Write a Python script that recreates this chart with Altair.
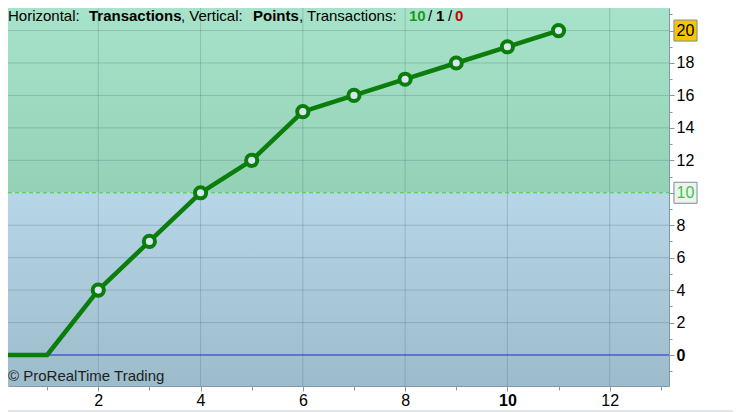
import altair as alt
import pandas as pd

# ---- data ----
trades = [0, 1, 2, 3, 4, 5, 6, 7, 8, 9, 10, 11]
points = [0, 0, 4, 7, 10, 12, 15, 16, 17, 18, 19, 20]
marker_trades = [2, 3, 4, 5, 6, 7, 8, 9, 10, 11]
marker_points = [4, 7, 10, 12, 15, 16, 17, 18, 19, 20]
x_grid = [2, 4, 6, 8, 10, 12]
y_grid = [2, 4, 6, 8, 12, 14, 16, 18, 20]
threshold = 10
zero_level = 0
last_value = 20
x_axis_values = list(range(1, 14))
y_axis_values = list(range(-1, 22))
title_pieces = ["Horizontal: ", "Transactions", ", Vertical: ", "Points",
                ", Transactions: ", "10", "/", "1", "/", "0"]
copyright_text = "© ProRealTime Trading"

# ---- layout / style ----
W, H = 661, 378
X_DOM = [0.235, 13.16]
Y_DOM = [-1.91, 21.39]
FONT = "Liberation Sans"
LINE_GREEN = "#0b7d0b"
AXIS_COL = "#8299a6"

xs = alt.Scale(domain=X_DOM, nice=False, zero=False)
ys = alt.Scale(domain=Y_DOM, nice=False, zero=False)

x_axis = alt.Axis(
    orient="bottom", values=x_axis_values, grid=False, zindex=1,
    labelExpr="datum.value % 2 === 0 ? datum.label : ''",
    tickSize={"condition": {"test": "datum.value % 2 === 0", "value": 5}, "value": 4},
    labelFontWeight={"condition": {"test": "datum.value === 10", "value": "bold"}, "value": "normal"},
    labelFont=FONT, labelFontSize=16, labelColor="#000000", labelPadding=1,
    domainColor=AXIS_COL, tickColor=AXIS_COL, labelFlush=False, labelOverlap=False,
    title=None,
)
y_axis = alt.Axis(
    orient="right", values=y_axis_values, grid=False, zindex=1,
    labelExpr="datum.value % 2 === 0 ? datum.label : ''",
    tickSize={"condition": {"test": "datum.value % 2 === 0", "value": 5}, "value": 3},
    labelFontWeight={"condition": {"test": "datum.value === 0", "value": "bold"}, "value": "normal"},
    labelColor={"condition": {"test": "datum.value === 10", "value": "#3fc43f"}, "value": "#000000"},
    labelFont=FONT, labelFontSize=16, labelPadding=2, labelBaseline="middle",
    domainColor=AXIS_COL, tickColor=AXIS_COL, labelFlush=False, labelOverlap=False,
    title=None,
)

def X(field):
    return alt.X(field, type="quantitative", scale=xs, axis=x_axis, title=None)

def Y(field):
    return alt.Y(field, type="quantitative", scale=ys, axis=y_axis, title=None)

one = pd.DataFrame({"k": [0]})

# backgrounds
bands = pd.DataFrame({"lo": [threshold], "hi": [Y_DOM[1]]})
bands_b = pd.DataFrame({"lo": [Y_DOM[0]], "hi": [threshold]})
green_grad = alt.LinearGradient(gradient="linear", x1=0, y1=0, x2=0, y2=1,
    stops=[alt.GradientStop(color="#a7e3ca", offset=0), alt.GradientStop(color="#94d1b6", offset=1)])
blue_grad = alt.LinearGradient(gradient="linear", x1=0, y1=0, x2=0, y2=1,
    stops=[alt.GradientStop(color="#b7d6e7", offset=0), alt.GradientStop(color="#9cbccb", offset=1)])

bg_green = alt.Chart(bands).mark_rect(fill=green_grad, clip=True).encode(
    x=alt.value(0), x2=alt.value(W), y=Y("hi"), y2="lo")
bg_blue = alt.Chart(bands_b).mark_rect(fill=blue_grad, clip=True).encode(
    x=alt.value(0), x2=alt.value(W), y=Y("hi"), y2="lo")

vgrid = alt.Chart(pd.DataFrame({"g": x_grid})).mark_rule(
    color="#4a6a72", opacity=0.28, strokeWidth=1).encode(
    x=X("g"), y=alt.value(0), y2=alt.value(H))
hgrid = alt.Chart(pd.DataFrame({"g": y_grid})).mark_rule(
    color="#4a6a72", opacity=0.28, strokeWidth=1).encode(
    y=Y("g"), x=alt.value(0), x2=alt.value(W))

thr = alt.Chart(pd.DataFrame({"v": [threshold]})).mark_rule(
    color="#3fd03f", strokeDash=[4, 3], strokeWidth=1).encode(
    y=Y("v"), x=alt.value(0), x2=alt.value(W))
zero = alt.Chart(pd.DataFrame({"v": [zero_level]})).mark_rule(
    color="#2424d0", strokeWidth=1).encode(
    y=Y("v"), x=alt.value(0), x2=alt.value(W))

line = alt.Chart(pd.DataFrame({"t": trades, "p": points})).mark_line(
    color=LINE_GREEN, strokeWidth=4.5, clip=True, strokeJoin="round").encode(
    x=X("t"), y=Y("p"))
dots = alt.Chart(pd.DataFrame({"t": marker_trades, "p": marker_points})).mark_point(
    shape="circle", filled=True, fill="#d5e8f1", stroke=LINE_GREEN,
    strokeWidth=4, size=125, opacity=1).encode(x=X("t"), y=Y("p"))

# label boxes on right axis
BOX = "M-1.1,-1L1.1,-1L1.1,1L-1.1,1Z"
box20 = alt.Chart(pd.DataFrame({"v": [last_value]})).mark_point(
    shape=BOX, filled=True, fill="#f7c500", stroke="#7d8c96", strokeWidth=1,
    size=441, opacity=1).encode(x=alt.value(W + 16.5), y=Y("v"))
box10 = alt.Chart(pd.DataFrame({"v": [threshold]})).mark_point(
    shape=BOX, filled=True, fill="#eef3f1", stroke="#7d8c96", strokeWidth=1,
    size=441, opacity=1).encode(x=alt.value(W + 16.5), y=Y("v"))

# window frame line at the very bottom
frame = alt.Chart(one).mark_rule(color="#c4ccd0", strokeWidth=1).encode(
    x=alt.value(-8), x2=alt.value(W + 72), y=alt.value(H + 25))

# title pieces
piece_x = [0, 81, 173, 245, 291, 401, 420, 428, 440, 447]
piece_w = ["normal", "bold", "normal", "bold", "normal", "bold", "normal", "bold", "normal", "bold"]
piece_c = ["#000000", "#000000", "#000000", "#000000", "#000000",
           "#1a9a1a", "#000000", "#000000", "#000000", "#c80000"]
texts = []
for txt, px, fw, col in zip(title_pieces, piece_x, piece_w, piece_c):
    texts.append(alt.Chart(one).mark_text(
        text=txt, align="left", baseline="alphabetic", font=FONT, fontSize=15,
        fontWeight=fw, color=col).encode(x=alt.value(px), y=alt.value(13)))

copy = alt.Chart(one).mark_text(
    text=copyright_text, align="left", baseline="alphabetic", font=FONT,
    fontSize=15, color="#1e1e1e").encode(x=alt.value(0), y=alt.value(373))

chart = alt.layer(
    bg_green, bg_blue, vgrid, hgrid, thr, zero, line, dots, box20, box10, frame, copy, *texts
).properties(
    width=W, height=H,
    padding={"left": 0, "top": 0, "right": 64, "bottom": 26},
    autosize=alt.AutoSizeParams(type="none"),
).configure_view(stroke=None).configure(background="#ffffff")

chart.save("out.html", embed_options={"renderer": "svg", "actions": False})
